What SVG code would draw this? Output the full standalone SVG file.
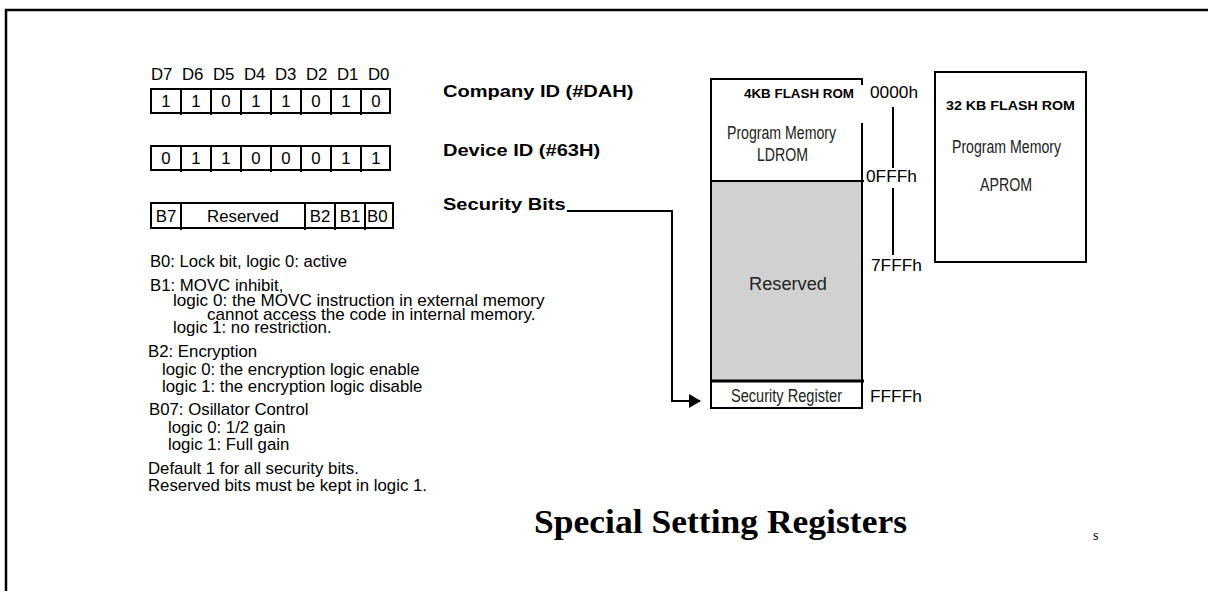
<svg xmlns="http://www.w3.org/2000/svg" width="1208" height="591" viewBox="0 0 1208 591">
<defs>
<style>
.t{font-family:"Liberation Sans",Arial,sans-serif;font-size:16px;fill:#000}
.b{font-family:"Liberation Sans",Arial,sans-serif;font-size:17px;font-weight:bold;fill:#000}
.sb{font-family:"Liberation Sans",Arial,sans-serif;font-size:12px;font-weight:bold;fill:#000}
.n{font-family:"Liberation Sans",Arial,sans-serif;font-size:17.5px;fill:#222}
.ttl{font-family:"Liberation Serif","Times New Roman",serif;font-size:33px;font-weight:bold;fill:#000}
.box{fill:#fff;stroke:#000;stroke-width:2}
.ln{fill:none;stroke:#000;stroke-width:2}
.c{text-anchor:middle}
</style>
<marker id="arr" markerWidth="12" markerHeight="14" refX="11" refY="7" orient="auto" markerUnits="userSpaceOnUse">
<path d="M0,0 L12,7 L0,14 Z" fill="#000"/>
</marker>
</defs>
<rect x="0" y="0" width="1208" height="591" fill="#fff"/>
<path d="M6,591 V10 H1208" fill="none" stroke="#000" stroke-width="2.5"/>

<g id="bit-header">
<text class="t" transform="translate(151,80) scale(1.05,1)">D7</text>
<text class="t" transform="translate(182,80) scale(1.05,1)">D6</text>
<text class="t" transform="translate(213,80) scale(1.05,1)">D5</text>
<text class="t" transform="translate(244,80) scale(1.05,1)">D4</text>
<text class="t" transform="translate(275,80) scale(1.05,1)">D3</text>
<text class="t" transform="translate(306,80) scale(1.05,1)">D2</text>
<text class="t" transform="translate(337,80) scale(1.05,1)">D1</text>
<text class="t" transform="translate(368,80) scale(1.05,1)">D0</text>
</g>

<g id="company-id-row">
<rect class="box" x="151" y="89" width="239" height="24"/>
<path class="ln" d="M181,89V115M211,89V115M241,89V115M271,89V115M301,89V115M331,89V115M361,89V115"/>
<text class="t c" transform="translate(166,107) scale(1.05,1)">1</text>
<text class="t c" transform="translate(196,107) scale(1.05,1)">1</text>
<text class="t c" transform="translate(226,107) scale(1.05,1)">0</text>
<text class="t c" transform="translate(256,107) scale(1.05,1)">1</text>
<text class="t c" transform="translate(286,107) scale(1.05,1)">1</text>
<text class="t c" transform="translate(316,107) scale(1.05,1)">0</text>
<text class="t c" transform="translate(346,107) scale(1.05,1)">1</text>
<text class="t c" transform="translate(376,107) scale(1.05,1)">0</text>
</g>

<g id="device-id-row">
<rect class="box" x="151" y="146" width="239" height="24"/>
<path class="ln" d="M181,146V172M211,146V172M241,146V172M271,146V172M301,146V172M331,146V172M361,146V172"/>
<text class="t c" transform="translate(166,164) scale(1.05,1)">0</text>
<text class="t c" transform="translate(196,164) scale(1.05,1)">1</text>
<text class="t c" transform="translate(226,164) scale(1.05,1)">1</text>
<text class="t c" transform="translate(256,164) scale(1.05,1)">0</text>
<text class="t c" transform="translate(286,164) scale(1.05,1)">0</text>
<text class="t c" transform="translate(316,164) scale(1.05,1)">0</text>
<text class="t c" transform="translate(346,164) scale(1.05,1)">1</text>
<text class="t c" transform="translate(376,164) scale(1.05,1)">1</text>
</g>

<g id="security-bits-row">
<rect class="box" x="151" y="203" width="242" height="25"/>
<path class="ln" d="M181,203V230M305,203V230M335,203V230M365,203V230"/>
<text class="t c" transform="translate(166,222) scale(1.05,1)">B7</text>
<text class="t c" transform="translate(243,222) scale(1.05,1)">Reserved</text>
<text class="t c" transform="translate(320,222) scale(1.05,1)">B2</text>
<text class="t c" transform="translate(350,222) scale(1.05,1)">B1</text>
<text class="t" transform="translate(367,222) scale(1.05,1)">B0</text>
</g>

<g id="labels">
<text class="b" transform="translate(443,97) scale(1.18,1)">Company ID (#DAH)</text>
<text class="b" transform="translate(443,156) scale(1.18,1)">Device ID (#63H)</text>
<text class="b" transform="translate(443,210) scale(1.18,1)">Security Bits</text>
</g>

<g id="notes">
<text class="t" transform="translate(150,267) scale(1.04,1)">B0: Lock bit, logic 0: active</text>
<text class="t" transform="translate(150,291) scale(1.05,1)">B1: MOVC inhibit,</text>
<text class="t" transform="translate(173,306) scale(1.07,1)">logic 0: the MOVC instruction in external memory</text>
<text class="t" transform="translate(207,320) scale(1.07,1)">cannot access the code in internal memory.</text>
<text class="t" transform="translate(173,333) scale(1.05,1)">logic 1: no restriction.</text>
<text class="t" transform="translate(148,357) scale(1.05,1)">B2: Encryption</text>
<text class="t" transform="translate(162,375) scale(1.05,1)">logic 0: the encryption logic enable</text>
<text class="t" transform="translate(162,392) scale(1.05,1)">logic 1: the encryption logic disable</text>
<text class="t" transform="translate(149,415) scale(1.05,1)">B07: Osillator Control</text>
<text class="t" transform="translate(168,433) scale(1.05,1)">logic 0: 1/2 gain</text>
<text class="t" transform="translate(168,450) scale(1.05,1)">logic 1: Full gain</text>
<text class="t" transform="translate(148,474) scale(1.05,1)">Default 1 for all security bits.</text>
<text class="t" transform="translate(148,491) scale(1.05,1)">Reserved bits must be kept in logic 1.</text>
</g>

<g id="memory-map">
<rect x="711" y="181" width="151" height="200" fill="#d1d1d1"/>
<path class="ln" d="M862,85 V79 H711 V408 H862 V123"/>
<path class="ln" d="M711,181 H864"/>
<path d="M711,381 H864" stroke="#000" stroke-width="3"/>
<text class="sb" x="744" y="98" textLength="110" lengthAdjust="spacingAndGlyphs">4KB FLASH ROM</text>
<text class="n" x="727" y="139" textLength="109" lengthAdjust="spacingAndGlyphs">Program Memory</text>
<text class="n" x="757" y="161" textLength="51" lengthAdjust="spacingAndGlyphs">LDROM</text>
<text class="n" x="749" y="290" font-size="21" textLength="78" lengthAdjust="spacingAndGlyphs">Reserved</text>
<text class="n" x="731" y="402" font-size="16" textLength="111" lengthAdjust="spacingAndGlyphs">Security Register</text>
</g>

<g id="address-labels">
<text class="t" transform="translate(870,98) scale(1.08,1)">0000h</text>
<text class="t" transform="translate(866,182) scale(1.08,1)">0FFFh</text>
<text class="t" transform="translate(871,271) scale(1.08,1)">7FFFh</text>
<text class="t" transform="translate(870,402) scale(1.08,1)">FFFFh</text>
<path class="ln" d="M893,107 V168 M893,188 V255"/>
</g>

<g id="aprom">
<rect class="box" x="935" y="72" width="151" height="190"/>
<text class="sb" x="946" y="110" textLength="129" lengthAdjust="spacingAndGlyphs">32 KB FLASH ROM</text>
<text class="n" x="952" y="153" textLength="109" lengthAdjust="spacingAndGlyphs">Program Memory</text>
<text class="n" x="980" y="191" textLength="52" lengthAdjust="spacingAndGlyphs">APROM</text>
</g>

<g id="connectors">
<path class="ln" d="M567,211 H672 V401 H700" marker-end="url(#arr)"/>
</g>

<g id="title">
<text class="ttl" x="534" y="533" textLength="373" lengthAdjust="spacingAndGlyphs">Special Setting Registers</text>
<text x="1093" y="540" font-family="Liberation Serif, serif" font-size="14">s</text>
</g>
</svg>
